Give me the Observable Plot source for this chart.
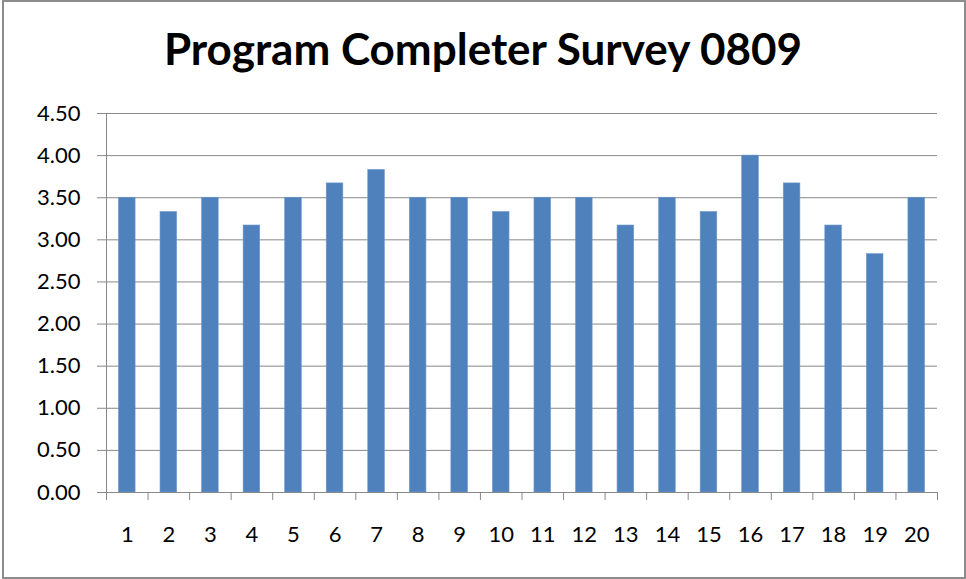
<!DOCTYPE html>
<html>
<head>
<meta charset="utf-8">
<script src="https://cdn.jsdelivr.net/npm/d3@7"></script>
<script src="https://cdn.jsdelivr.net/npm/@observablehq/plot@0.6"></script>
<style>
  html, body { margin: 0; padding: 0; background: #fff; }
  #wrap { position: relative; width: 966px; height: 579px; overflow: hidden; font-family: Lato, "Open Sans", sans-serif; }
  #border { position: absolute; left: 2px; top: 0px; width: 960px; height: 575px; border: 2px solid #8c8c8c; }
  #title { position: absolute; left: 0; top: 0; width: 966px; height: 90px; text-align: center; font-weight: bold; font-size: 44px; line-height: 44px; padding-top: 26px; box-sizing: border-box; color: #000; }
  #chart { position: absolute; left: 0; top: 90px; }
</style>
</head>
<body>
<div id="wrap">
  <div id="border"></div>
  <div id="title">Program Completer Survey 0809</div>
  <div id="chart"></div>
</div>
<script>
const categories = ["1","2","3","4","5","6","7","8","9","10","11","12","13","14","15","16","17","18","19","20"];
const values = [3.5, 3.33, 3.5, 3.17, 3.5, 3.67, 3.83, 3.5, 3.5, 3.33, 3.5, 3.5, 3.17, 3.5, 3.33, 4.0, 3.67, 3.17, 2.83, 3.5];
const yTicks = [0, 0.5, 1, 1.5, 2, 2.5, 3, 3.5, 4, 4.5];

const data = categories.map((c, i) => ({cat: c, value: values[i]}));

const width = 966, height = 489;
const marginLeft = 106, marginRight = 29, marginTop = 23, marginBottom = 87;
const step = (width - marginLeft - marginRight) / categories.length;

const chart = Plot.plot({
  width, height, marginLeft, marginRight, marginTop, marginBottom,
  style: {fontFamily: "Lato, 'Open Sans', sans-serif", fontSize: "22px", color: "#000", background: "transparent"},
  x: {domain: categories, paddingInner: 0.6, paddingOuter: 0.3, round: false, label: null},
  y: {domain: [0, 4.5], label: null},
  marks: [
    Plot.gridY(yTicks, {stroke: "#888", strokeOpacity: 1, strokeWidth: 1}),
    Plot.axisY(yTicks, {tickSize: 9, tickPadding: 17, tickFormat: d => d.toFixed(2), stroke: "#888", label: null, fill: "#000"}),
    Plot.barY(data, {x: "cat", y: "value", fill: "#4F81BD", stroke: "#6f98cc", strokeWidth: 0.6}),
    Plot.ruleY([0], {stroke: "#888"}),
    Plot.ruleX([0], {x: () => categories[0], dx: -step / 2, y1: 0, y2: 4.5, stroke: "#888"}),
    Plot.axisX({tickSize: 0, tickPadding: 34, label: null, fill: "#000"}),
    Plot.axisX({tickSize: 8, tickFormat: () => "", dx: step / 2, stroke: "#888", label: null}),
    Plot.axisX([categories[0]], {tickSize: 8, tickFormat: () => "", dx: -step / 2, stroke: "#888", label: null})
  ]
});
document.getElementById("chart").appendChild(chart);
</script>
</body>
</html>
